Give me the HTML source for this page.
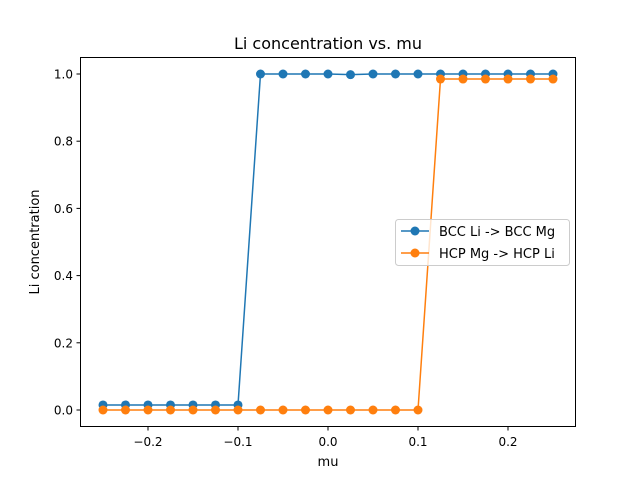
<!DOCTYPE html>
<html><head><meta charset="utf-8"><style>
body{margin:0;background:#fff}
svg{display:block;font-family:"DejaVu Sans","Liberation Sans",sans-serif}
</style></head><body>
<svg id="chart" width="640" height="480">
<rect width="640" height="480" fill="#fff"/>
<text x="328" y="49" font-size="16" text-anchor="middle">Li concentration vs. mu</text>
<g id="plot"></g>
<rect x="80.5" y="57.5" width="495" height="369" fill="none" stroke="#000" stroke-width="1"/>
<text x="328" y="466" font-size="13" text-anchor="middle">mu</text>
<text transform="translate(39,242) rotate(-90)" font-size="13" text-anchor="middle">Li concentration</text>
<g>
<rect x="395.5" y="219.5" width="174" height="46" rx="3" fill="#fff" fill-opacity="0.8" stroke="#ccc"/>
<g>
<line x1="401" y1="231" x2="429" y2="231" stroke="#1f77b4" stroke-width="1.5"/><circle cx="415" cy="231" r="4.5" fill="#1f77b4"/>
<text x="439" y="236" font-size="13">BCC Li -&gt; BCC Mg</text></g>
<g>
<line x1="401" y1="253" x2="429" y2="253" stroke="#ff7f0e" stroke-width="1.5"/><circle cx="415" cy="253" r="4.5" fill="#ff7f0e"/>
<text x="439" y="258" font-size="13">HCP Mg -&gt; HCP Li</text></g>
</g>
</svg>
<script>
const xValues=[-0.25,-0.225,-0.2,-0.175,-0.15,-0.125,-0.1,-0.075,-0.05,-0.025,0,0.025,0.05,0.075,0.1,0.125,0.15,0.175,0.2,0.225,0.25];
const bccValues=[0.015,0.015,0.015,0.015,0.015,0.015,0.015,1,1,1,1,0.998,1,1,1,1,1,1,1,1,1];
const hcpValues=[0,0,0,0,0,0,0,0,0,0,0,0,0,0,0,0.985,0.985,0.985,0.985,0.985,0.985];
const xTicks=[-0.2,-0.1,0.0,0.1,0.2];
const xTickLabels=["\u22120.2","\u22120.1","0.0","0.1","0.2"];
const yTicks=[0,0.2,0.4,0.6,0.8,1.0];
const yTickLabels=["0.0","0.2","0.4","0.6","0.8","1.0"];
const X=v=>328+v*900, Y=v=>410-v*336;
const ns="http://www.w3.org/2000/svg", g=document.getElementById('plot');
function mk(t,a){const e=document.createElementNS(ns,t);for(const k in a)e.setAttribute(k,a[k]);g.appendChild(e);return e;}
xTicks.forEach((t,i)=>{
 const l=mk('line',{x1:X(t),x2:X(t),y1:427,y2:430.5,stroke:'#000'});
 
 
 const s=mk('text',{x:X(t),y:446,'font-size':12,'text-anchor':'middle'});s.textContent=xTickLabels[i];
 
 
});
yTicks.forEach((t,i)=>{
 const l=mk('line',{x1:76.5,x2:80,y1:Y(t),y2:Y(t),stroke:'#000'});
 
 
 const s=mk('text',{x:73,y:Y(t)+4.5,'font-size':12,'text-anchor':'end'});s.textContent=yTickLabels[i];
 
 
});
[[bccValues,'#1f77b4','bcc'],[hcpValues,'#ff7f0e','hcp']].forEach(([vals,c,n])=>{
 const p=mk('polyline',{points:xValues.map((x,i)=>X(x)+','+Y(vals[i])).join(' '),fill:'none',stroke:c,'stroke-width':1.5});
 
 
 xValues.forEach((x,i)=>{
  const m=mk('circle',{cx:X(x),cy:Y(vals[i]),r:4.5,fill:c});
  
  
 });
});
</script>
</body></html>
